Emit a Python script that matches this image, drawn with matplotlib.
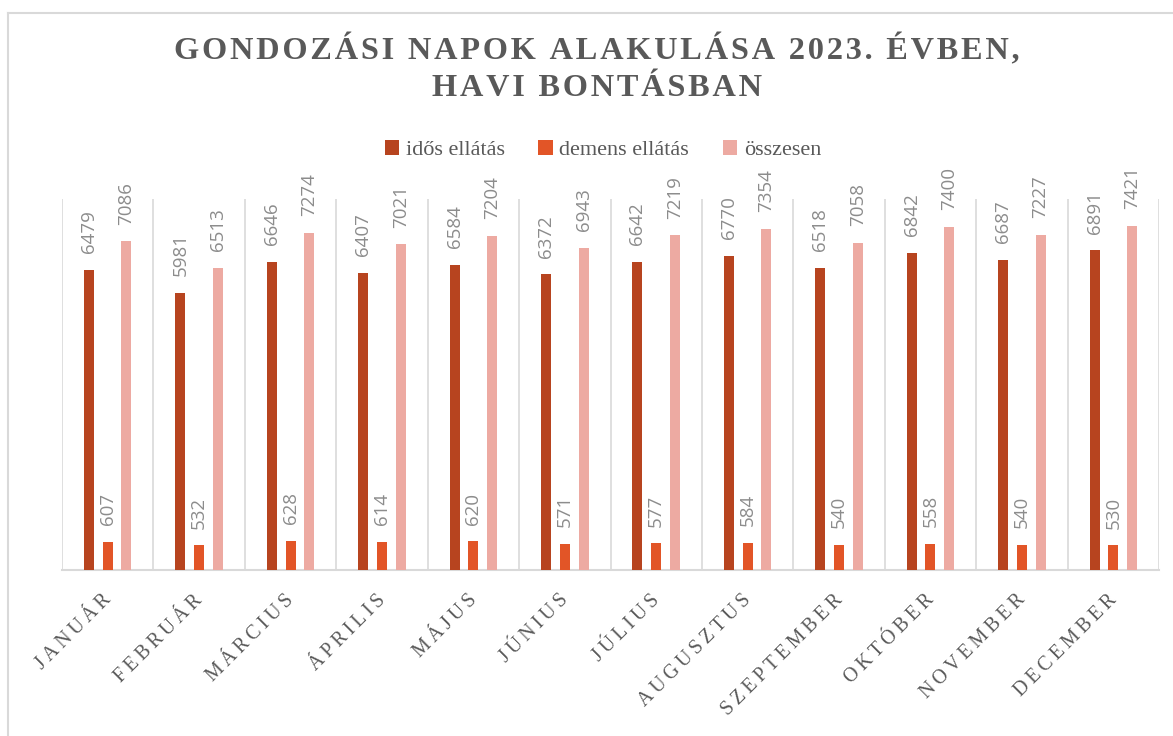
import matplotlib
import matplotlib.pyplot as plt
import matplotlib.transforms as mtransforms
import numpy as np
from matplotlib.lines import Line2D

matplotlib.use('Agg')

months = ['JANUÁR', 'FEBRUÁR', 'MÁRCIUS', 'ÁPRILIS', 'MÁJUS', 'JÚNIUS',
          'JÚLIUS', 'AUGUSZTUS', 'SZEPTEMBER', 'OKTÓBER', 'NOVEMBER', 'DECEMBER']
idos = [6479, 5981, 6646, 6407, 6584, 6372, 6642, 6770, 6518, 6842, 6687, 6891]
demens = [607, 532, 628, 614, 620, 571, 577, 584, 540, 558, 540, 530]
osszesen = [7086, 6513, 7274, 7021, 7204, 6943, 7219, 7354, 7058, 7400, 7227, 7421]
series_names = ['idős ellátás', 'demens ellátás', 'összesen']
colors = ['#B7441F', '#E25527', '#EDAAA2']

SERIF = ['Liberation Serif', 'DejaVu Serif']


def spaced(s, sep='\u200a'):
    return sep.join(s)


fig = plt.figure(figsize=(11.73, 7.36), dpi=100)
ax = fig.add_axes([62 / 1173, 1 - 570 / 736, (1159 - 62) / 1173, (570 - 199) / 736])

x = np.arange(len(months))
w = 0.11
step = 0.205
for i, (vals, c) in enumerate(zip([idos, demens, osszesen], colors)):
    pos = x + (i - 1) * step
    ax.bar(pos, vals, width=w, color=c, label=series_names[i], zorder=3)
    for p, v in zip(pos, vals):
        ax.annotate(str(v), (p, v), xytext=(0, 12), textcoords='offset points',
                    rotation=90, ha='center', va='bottom', fontsize=13.5,
                    color='#8c8c8c', family='Open Sans')

ax.set_xlim(-0.5, len(months) - 0.5)
ax.set_ylim(0, 8000)
ax.set_yticks([])
for b in np.arange(-0.5, len(months), 1.0):
    ax.axvline(b, color='#d9d9d9', lw=1.2, zorder=1)
for s in ['top', 'left', 'right']:
    ax.spines[s].set_visible(False)
ax.spines['bottom'].set_color('#d9d9d9')
ax.spines['bottom'].set_linewidth(1.5)

ax.set_xticks(x)
ax.set_xticklabels([spaced(m, '\u2009') for m in months], rotation=45, ha='right',
                   rotation_mode='anchor', fontsize=14.3, color='#595959',
                   family=SERIF)
ax.tick_params(axis='x', length=0, pad=15)
shift = mtransforms.ScaledTranslation(-6 / 100, 0, fig.dpi_scale_trans)
for lbl in ax.get_xticklabels():
    lbl.set_transform(lbl.get_transform() + shift)

fig.text(597 / 1173, 1 - 50 / 736, spaced('GONDOZÁSI NAPOK ALAKULÁSA 2023. ÉVBEN,'),
         ha='center', va='center', fontsize=23.3, fontweight='bold',
         color='#595959', family=SERIF)
fig.text(597 / 1173, 1 - 88 / 736, spaced('HAVI BONTÁSBAN'),
         ha='center', va='center', fontsize=23.3, fontweight='bold',
         color='#595959', family=SERIF)

leg = fig.legend(loc='center', bbox_to_anchor=(603 / 1173, 1 - 150 / 736),
                 ncol=3, frameon=False, prop={'family': SERIF, 'size': 16},
                 handlelength=0.65, handleheight=0.65, handletextpad=0.3,
                 columnspacing=1.5)
for t in leg.get_texts():
    t.set_color('#595959')

# chart frame (left and top edges visible)
fig.add_artist(Line2D([8 / 1173, 8 / 1173], [0, 1 - 13 / 736], color='#d9d9d9',
                      lw=1.5, transform=fig.transFigure))
fig.add_artist(Line2D([8 / 1173, 1], [1 - 13 / 736, 1 - 13 / 736], color='#d9d9d9',
                      lw=1.5, transform=fig.transFigure))

fig.savefig('out.png', dpi=100)
plt.close(fig)
